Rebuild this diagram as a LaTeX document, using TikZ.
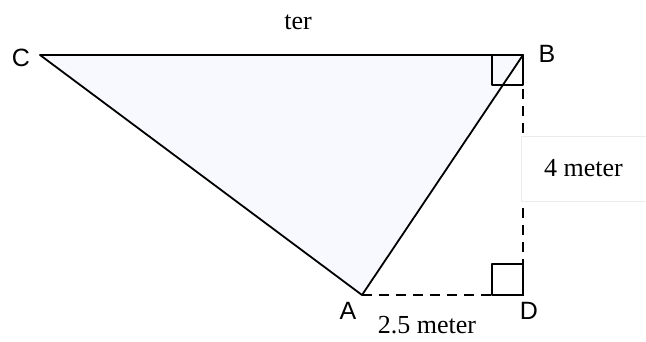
\documentclass[tikz,border=0pt]{standalone}
\usepackage{fontspec}
\setmainfont{Liberation Serif}
\setsansfont{Liberation Sans}
\usetikzlibrary{positioning,calc}
\definecolor{Paper}{HTML}{F8F8FF}
\definecolor{Ink}{HTML}{000000}

\begin{document}
\begin{tikzpicture}[x=1pt,y=-1pt,
  vlabel/.style={font=\sffamily\fontsize{25}{25}\selectfont,inner sep=0pt},
  mlabel/.style={font=\fontsize{26}{26}\selectfont,inner sep=0pt},
  side/.style={Ink,line width=1.8pt,line join=round},
  guide/.style={Ink,line width=1.8pt,dash pattern=on 10pt off 7pt}]
\useasboundingbox (0,0) rectangle (646,341);
\coordinate (C) at (40,55);
\coordinate (B) at (523,55);
\coordinate (A) at (362,295);
\coordinate (D) at (523,295);
\fill[Paper] (C) -- (B) -- (A) -- cycle;
\draw[guide] (A) -- (D) -- (B);
\draw[side,line width=1.6pt] (B) rectangle ++(-31,30);
\draw[side,line width=1.6pt] (D) rectangle ++(-31,-31);
\draw[side] (C) -- (B) -- (A) -- cycle;
\node[vlabel] (labC) at (21,58) {C};
\node[vlabel] (labB) at (547,54) {B};
\node[vlabel] (labA) at (348,311) {A};
\node[vlabel] (labD) at (529,311) {D};
\node[mlabel] (lenCB) at (298,22) {ter};
\node[mlabel,fill=white,draw=black!8,minimum width=125pt,minimum height=65pt] (lenBD) at (583.5,168.5) {4 meter};
\node[mlabel] (lenAD) at (427,325) {2.5 meter};
\end{tikzpicture}
\end{document}
